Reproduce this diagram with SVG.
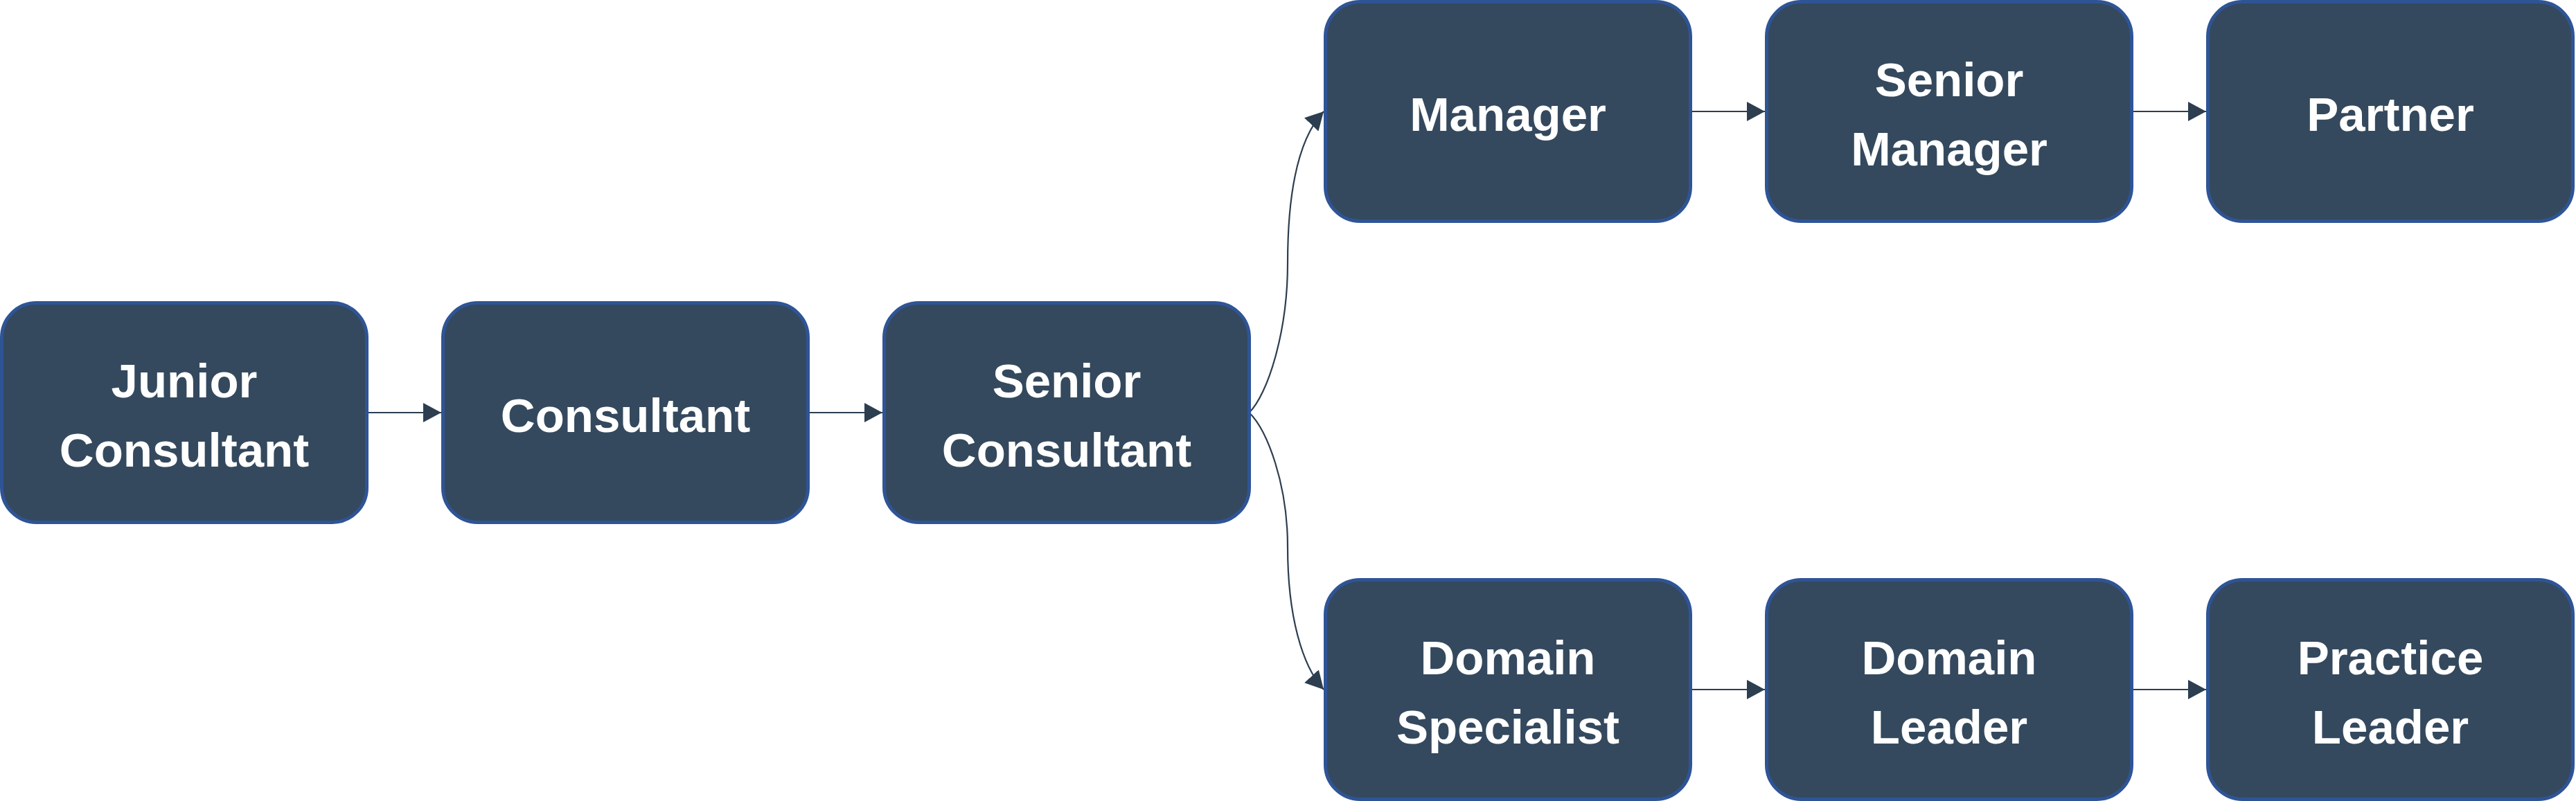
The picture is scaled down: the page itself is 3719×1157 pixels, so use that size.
<svg xmlns="http://www.w3.org/2000/svg" width="3719" height="1157" viewBox="0 0 3719 1157">
  <defs>
    <style>
      .box { fill: #34495e; stroke: #2f5496; stroke-width: 5; }
      .lbl { font-family: "Liberation Sans", Arial, sans-serif; font-weight: bold; font-size: 69px; fill: #ffffff; text-anchor: middle; }
      .edge { fill: none; stroke: #2c3e50; stroke-width: 2.2; marker-end: url(#arrow); }
    </style>
    <marker id="arrow" markerUnits="userSpaceOnUse" markerWidth="27" markerHeight="28" refX="26" refY="14" orient="auto">
      <path d="M0,0 L26,14 L0,28 z" fill="#2c3e50"/>
    </marker>
  </defs>
  <rect width="3719" height="1157" fill="#ffffff"/>

  <g id="connectors">
    <path class="edge" d="M529.5,596 L637,596"/>
    <path class="edge" d="M1166.5,596 L1274,596"/>
    <path class="edge" d="M1803.5,596 C1830,570 1859,480 1859,380 C1859,260 1880,194 1911,161"/>
    <path class="edge" d="M1803.5,596 C1830,622 1859,700 1859,790 C1859,890 1880,962 1911,996"/>
    <path class="edge" d="M2440.5,161 L2548,161"/>
    <path class="edge" d="M3077.5,161 L3185,161"/>
    <path class="edge" d="M2440.5,996 L2548,996"/>
    <path class="edge" d="M3077.5,996 L3185,996"/>
  </g>

  <g id="junior-consultant">
    <rect class="box" x="2.5" y="437.5" width="527" height="317" rx="50" ry="50"/>
    <text class="lbl" x="266" y="574">Junior</text>
    <text class="lbl" x="266" y="674">Consultant</text>
  </g>
  <g id="consultant">
    <rect class="box" x="639.5" y="437.5" width="527" height="317" rx="50" ry="50"/>
    <text class="lbl" x="903" y="624">Consultant</text>
  </g>
  <g id="senior-consultant">
    <rect class="box" x="1276.5" y="437.5" width="527" height="317" rx="50" ry="50"/>
    <text class="lbl" x="1540" y="574">Senior</text>
    <text class="lbl" x="1540" y="674">Consultant</text>
  </g>
  <g id="manager">
    <rect class="box" x="1913.5" y="2.5" width="527" height="317" rx="50" ry="50"/>
    <text class="lbl" x="2177" y="189">Manager</text>
  </g>
  <g id="senior-manager">
    <rect class="box" x="2550.5" y="2.5" width="527" height="317" rx="50" ry="50"/>
    <text class="lbl" x="2814" y="139">Senior</text>
    <text class="lbl" x="2814" y="239">Manager</text>
  </g>
  <g id="partner">
    <rect class="box" x="3187.5" y="2.5" width="527" height="317" rx="50" ry="50"/>
    <text class="lbl" x="3451" y="189">Partner</text>
  </g>
  <g id="domain-specialist">
    <rect class="box" x="1913.5" y="837.5" width="527" height="317" rx="50" ry="50"/>
    <text class="lbl" x="2177" y="974">Domain</text>
    <text class="lbl" x="2177" y="1074">Specialist</text>
  </g>
  <g id="domain-leader">
    <rect class="box" x="2550.5" y="837.5" width="527" height="317" rx="50" ry="50"/>
    <text class="lbl" x="2814" y="974">Domain</text>
    <text class="lbl" x="2814" y="1074">Leader</text>
  </g>
  <g id="practice-leader">
    <rect class="box" x="3187.5" y="837.5" width="527" height="317" rx="50" ry="50"/>
    <text class="lbl" x="3451" y="974">Practice</text>
    <text class="lbl" x="3451" y="1074">Leader</text>
  </g>
</svg>
